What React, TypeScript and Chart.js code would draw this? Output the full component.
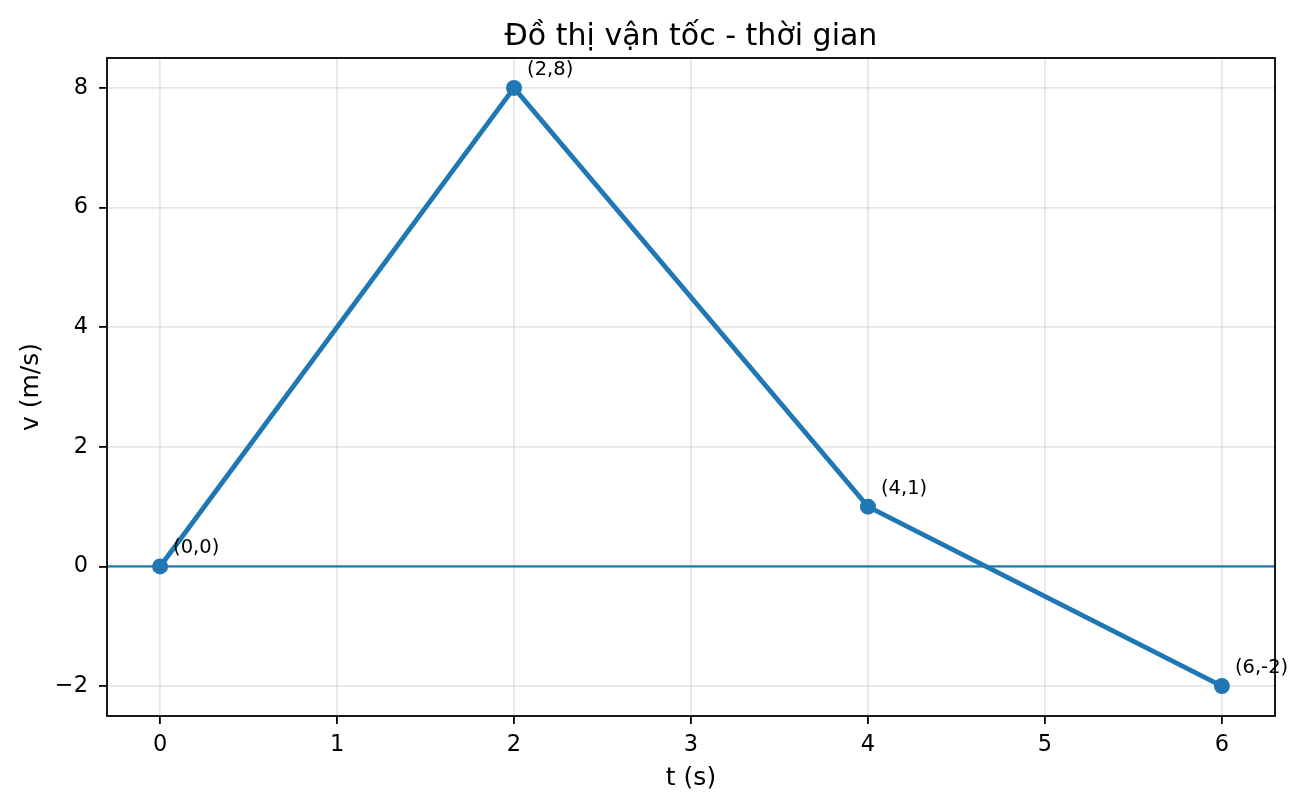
import { useEffect, useRef } from "react";
import { Chart, registerables } from "chart.js";

Chart.register(...registerables);

const times = [0, 2, 4, 6];
const velocities = [0, 8, 1, -2];
const pointLabels = ["(0,0)", "(2,8)", "(4,1)", "(6,-2)"];
const xTicks = [0, 1, 2, 3, 4, 5, 6];
const yTicks = [-2, 0, 2, 4, 6, 8];
const xRange = [-0.3, 6.3];
const yRange = [-2.5, 8.5];
const referenceLevel = 0;
const titleText = "Đồ thị vận tốc - thời gian";
const xLabel = "t (s)";
const yLabel = "v (m/s)";

const BLUE = "#1f77b4";
const FONT = "'DejaVu Sans', sans-serif";

const overlay = {
  id: "overlay",
  beforeDatasetsDraw(chart: any) {
    const { ctx, chartArea, scales } = chart;
    const y = scales.y.getPixelForValue(referenceLevel);
    ctx.save();
    ctx.strokeStyle = BLUE;
    ctx.lineWidth = 2.2;
    ctx.beginPath();
    ctx.moveTo(chartArea.left, y);
    ctx.lineTo(chartArea.right, y);
    ctx.stroke();
    ctx.restore();
  },
  afterDraw(chart: any) {
    const { ctx, chartArea, scales } = chart;
    ctx.save();
    // annotations
    ctx.fillStyle = "#000";
    ctx.font = `19.5px ${FONT}`;
    ctx.textAlign = "left";
    ctx.textBaseline = "alphabetic";
    times.forEach((t, i) => {
      const px = scales.x.getPixelForValue(t);
      const py = scales.y.getPixelForValue(velocities[i]);
      ctx.fillText(pointLabels[i], px + 13, py - 13);
    });
    // spines
    ctx.strokeStyle = "#000";
    ctx.lineWidth = 1.8;
    ctx.strokeRect(
      chartArea.left,
      chartArea.top,
      chartArea.right - chartArea.left,
      chartArea.bottom - chartArea.top
    );
    // title
    const cx = (chartArea.left + chartArea.right) / 2;
    ctx.font = `30px ${FONT}`;
    ctx.textAlign = "center";
    ctx.fillText(titleText, cx, chartArea.top - 13);
    // axis labels
    ctx.font = `25px ${FONT}`;
    ctx.textBaseline = "middle";
    ctx.fillText(xLabel, cx, 778);
    ctx.translate(31, (chartArea.top + chartArea.bottom) / 2);
    ctx.rotate(-Math.PI / 2);
    ctx.fillText(yLabel, 0, 0);
    ctx.restore();
  },
};

export default function App() {
  const ref = useRef<HTMLCanvasElement>(null);
  useEffect(() => {
    if (!ref.current) return;
    const chart = new Chart(ref.current, {
      type: "line",
      data: {
        datasets: [
          {
            data: times.map((t, i) => ({ x: t, y: velocities[i] })),
            borderColor: BLUE,
            backgroundColor: BLUE,
            borderWidth: 4.8,
            pointRadius: 8,
            pointBorderWidth: 0,
            pointBackgroundColor: BLUE,
            tension: 0,
          },
        ],
      },
      options: {
        animation: false,
        responsive: false,
        devicePixelRatio: 1,
        layout: { padding: { left: 0, top: 58, right: 32, bottom: 0 } },
        plugins: {
          legend: { display: false },
          title: { display: false },
          tooltip: { enabled: false },
        },
        scales: {
          x: {
            type: "linear",
            min: xRange[0],
            max: xRange[1],
            afterBuildTicks: (s: any) => {
              s.ticks = xTicks.map((v) => ({ value: v }));
            },
            afterFit: (s: any) => {
              s.height = 93;
            },
            border: { display: false },
            grid: {
              color: "rgba(176,176,176,0.3)",
              lineWidth: 1.8,
              tickLength: 8,
              tickColor: "#000",
              tickWidth: 1.8,
            },
            ticks: {
              color: "#000",
              font: { family: FONT, size: 22.5 },
              padding: 8,
              maxRotation: 0,
              callback: (v: any) => String(v),
            },
          },
          y: {
            type: "linear",
            min: yRange[0],
            max: yRange[1],
            afterBuildTicks: (s: any) => {
              s.ticks = yTicks.map((v) => ({ value: v }));
            },
            afterFit: (s: any) => {
              s.width = 107;
            },
            border: { display: false },
            grid: {
              color: "rgba(176,176,176,0.3)",
              lineWidth: 1.8,
              tickLength: 8,
              tickColor: "#000",
              tickWidth: 1.8,
            },
            ticks: {
              color: "#000",
              font: { family: FONT, size: 22.5 },
              padding: 11,
              callback: (v: any) => (v < 0 ? "\u2212" + Math.abs(v) : String(v)),
            },
          },
        },
      },
      plugins: [overlay],
    });
    return () => chart.destroy();
  }, []);
  return (
    <div style={{ position: "absolute", left: 0, top: 0, width: 1307, height: 809, background: "#fff" }}>
      <canvas ref={ref} width={1307} height={809} style={{ display: "block" }} />
    </div>
  );
}
